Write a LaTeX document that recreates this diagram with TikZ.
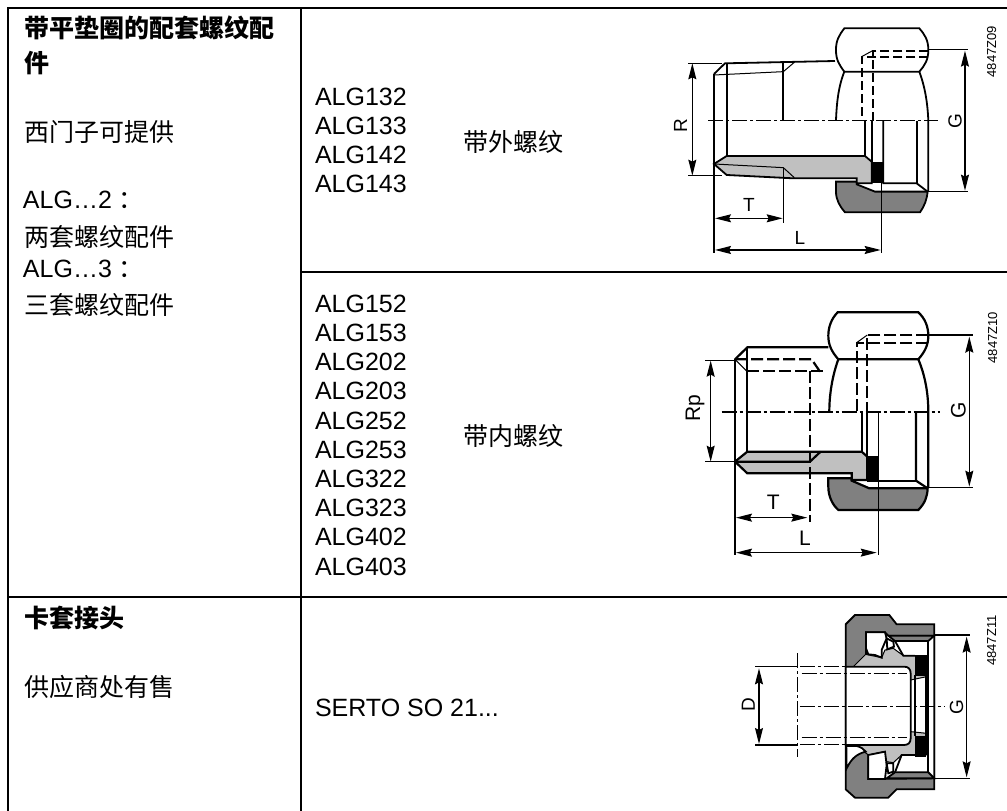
\documentclass[tikz,border=0pt]{standalone}
\usepackage{fontspec}
\setmainfont{Liberation Sans}
\newfontfamily\cjk{Noto Sans CJK SC}
\usetikzlibrary{arrows.meta}
\definecolor{nutgray}{HTML}{808080}
\definecolor{bodygray}{HTML}{C0C0C0}
\tikzset{
  every node/.append style={inner sep=0pt, outer sep=0pt, text=black},
  cell/.style={anchor=base west, font=\fontsize{25pt}{29pt}\selectfont},
  cjkcell/.style={anchor=west, font=\cjk\fontsize{25pt}{30pt}\selectfont},
  headcell/.style={anchor=west, font=\cjk\bfseries\fontsize{25pt}{30pt}\selectfont},
  dimlabel/.style={font=\fontsize{19pt}{21pt}\selectfont},
  figno/.style={rotate=90, font=\fontsize{13pt}{15pt}\selectfont},
  frameline/.style={line width=2pt},
  part/.style={line width=1.8pt},
  thinpart/.style={line width=1pt},
  hidden/.style={line width=1.8pt, dash pattern=on 9pt off 4pt},
  axis/.style={line width=1.2pt, dash pattern=on 15pt off 3pt on 3pt off 3pt},
  dimline/.style={line width=1.2pt, {Stealth[length=16pt,width=8pt,inset=2pt]}-{Stealth[length=16pt,width=8pt,inset=2pt]}},
  extline/.style={line width=1.2pt}
}
\begin{document}
\begin{tikzpicture}[x=1pt, y=-1pt]
  \useasboundingbox (0,0) rectangle (1007,811);
  % table
  \draw[frameline] (1007,8) -- (8,8) -- (8,811);
  \draw[frameline] (301,8) -- (301,811);
  \draw[frameline] (301,272) -- (1007,272);
  \draw[frameline] (8,597) -- (1007,597);
  % first column
  \node[headcell] (head1) at (24,28) {带平垫圈的配套螺纹配};
  \node[headcell] (head1b) at (24,63) {件};
  \node[cjkcell] (supply) at (24,132) {西门子可提供};
  \node[cell] (alg2) at (23,208) {ALG…2\hspace{7pt}{\cjk ：}};
  \node[cjkcell] (two) at (24,237) {两套螺纹配件};
  \node[cell] (alg3) at (23,277) {ALG…3\hspace{7pt}{\cjk ：}};
  \node[cjkcell] (three) at (24,305) {三套螺纹配件};
  \node[headcell] (head2) at (24,618) {卡套接头};
  \node[cjkcell] (vendor) at (24,687) {供应商处有售};
  % middle column
  \foreach \name [count=\i from 0] in {ALG132,ALG133,ALG142,ALG143}
    \node[cell] (outer\i) at (315,{105.7+29*\i}) {\name};
  \foreach \name [count=\i from 0] in {ALG152,ALG153,ALG202,ALG203,ALG252,ALG253,ALG322,ALG323,ALG402,ALG403}
    \node[cell] (inner\i) at (315,{312.3+29.2*\i}) {\name};
  \node[cjkcell] (male) at (463,142) {带外螺纹};
  \node[cjkcell] (female) at (463,436) {带内螺纹};
  \node[cell] (serto) at (315,716) {SERTO SO 21...};
  % fitting with outer thread
  \begin{scope}[shift={(660,0)}, x=.3333pt, y=-.3333pt]
    \filldraw[part, fill=nutgray] (528,545) -- (590,545) -- (590,553) -- (645,575) -- (803,575)
      .. controls (800,600) and (795,615) .. (780,637) -- (555,637)
      .. controls (540,620) and (528,600) .. (528,575) -- cycle;
    \filldraw[part, fill=bodygray] (162,492) -- (200,468) -- (615,468) -- (635,485) -- (635,550)
      -- (590,550) -- (590,535) -- (400,535) -- (200,525) -- cycle;
    \fill (637,485) rectangle (670,550);
    \draw[part] (162,222) -- (195,190) -- (525,183);
    \draw[part] (162,222) -- (162,492);
    \draw[part] (200,190) -- (200,468);
    \draw[thinpart] (162,225) -- (370,215) -- (403,187);
    \draw[thinpart] (162,492) -- (370,503) -- (403,533);
    \draw[part] (370,183) -- (370,362);
    \draw[part] (553,85) -- (778,85) .. controls (795,105) and (805,120) .. (805,150)
      .. controls (805,180) and (795,195) .. (778,215) -- (553,215)
      .. controls (538,195) and (528,180) .. (528,150) .. controls (528,120) and (538,105) .. (553,85) -- cycle;
    \draw[part] (553,215) .. controls (535,260) and (530,310) .. (528,362);
    \draw[part] (778,215) .. controls (795,260) and (803,310) .. (805,362) -- (805,575);
    \draw[part] (615,362) -- (615,468);
    \draw[part] (635,362) -- (635,485);
    \draw[part] (670,362) -- (670,550) -- (770,550) -- (803,575);
    \draw[part] (770,362) -- (770,550);
    \draw[hidden] (805,170) -- (605,170) -- (605,362);
    \draw[hidden] (805,152) -- (638,152) -- (638,362);
    \draw[thinpart] (605,170) -- (638,152);
    \draw[axis, line width=1.6pt] (145,362) -- (835,362);
    % dimensions
    \draw[extline] (85,190) -- (185,190);
    \draw[extline] (85,527) -- (185,527);
    \draw[dimline] (97,190) -- (97,527);
    \draw[extline] (805,148) -- (925,148);
    \draw[extline] (805,575) -- (925,575);
    \draw[dimline] (915,152) -- (915,572);
    \draw[extline] (162,492) -- (162,758);
    \draw[extline] (370,503) -- (370,668);
    \draw[extline] (665,550) -- (665,758);
    \draw[dimline] (165,655) -- (368,655);
    \draw[dimline] (165,750) -- (662,750);
    \node[dimlabel, rotate=90] (labelR) at (62,378) {R};
    \node[dimlabel, rotate=90] (labelG) at (885,362) {G};
    \node[dimlabel] (labelT) at (267,615) {T};
    \node[dimlabel] (labelL) at (420,715) {L};
    \node[figno] (fig09) at (995,155) {4847Z09};
  \end{scope}
  % fitting with inner thread
  \begin{scope}[shift={(660,270)}, x=.3333pt, y=-.3333pt, part/.append style={line width=2.2pt},
      hidden/.append style={line width=2.2pt, dash pattern=on 12pt off 4pt}]
    \filldraw[part, fill=nutgray] (505,625) -- (575,625) -- (575,632) -- (628,655) -- (803,655)
      .. controls (802,680) and (795,700) .. (775,720) -- (535,720)
      .. controls (518,705) and (505,680) .. (505,650) -- cycle;
    \filldraw[part, fill=bodygray] (225,575) -- (262,545) -- (605,545) -- (622,560) -- (622,630)
      -- (575,630) -- (575,610) -- (262,610) -- cycle;
    \fill (620,557) rectangle (655,630);
    \draw[part] (225,268) -- (262,232) -- (505,232);
    \draw[part] (225,268) -- (225,575);
    \draw[part] (262,232) -- (262,545);
    \draw[thinpart] (225,268) -- (262,305);
    \draw[part] (225,575) -- (450,575) -- (482,545);
    \draw[part] (533,127) -- (775,127) .. controls (795,145) and (805,170) .. (805,197)
      .. controls (805,225) and (795,245) .. (775,268) -- (535,268)
      .. controls (515,245) and (505,225) .. (505,197) .. controls (505,170) and (515,145) .. (533,127) -- cycle;
    \draw[part] (535,268) .. controls (518,315) and (508,370) .. (508,425);
    \draw[part] (775,268) .. controls (795,315) and (805,370) .. (805,425) -- (805,652);
    \draw[part] (605,427) -- (605,545);
    \draw[part] (622,427) -- (622,557);
    \draw[part] (768,427) -- (768,632) -- (803,655);
    \draw[part] (620,632) -- (768,632);
    \draw[hidden] (225,268) -- (455,268) -- (480,305);
    \draw[hidden] (262,303) -- (500,303);
    \draw[hidden] (450,303) -- (450,755);
    \draw[hidden] (805,218) -- (590,218) -- (590,427);
    \draw[hidden] (805,195) -- (622,195) -- (622,427);
    \draw[thinpart] (590,218) -- (622,195);
    \draw[axis, line width=2.2pt] (185,427) -- (840,427);
    % dimensions
    \draw[extline] (135,272) -- (225,272);
    \draw[extline] (135,575) -- (225,575);
    \draw[dimline] (152,272) -- (152,575);
    \draw[extline] (805,195) -- (940,195);
    \draw[extline] (805,652) -- (940,652);
    \draw[dimline] (928,200) -- (928,650);
    \draw[extline] (225,575) -- (225,855);
    \draw[extline] (655,427) -- (655,855);
    \draw[dimline] (228,743) -- (442,743);
    \draw[dimline] (228,848) -- (650,848);
    \node[dimlabel, rotate=90, font=\fontsize{21pt}{23pt}\selectfont] (labelRp) at (105,415) {Rp};
    \node[dimlabel, rotate=90, font=\fontsize{21pt}{23pt}\selectfont] (labelGb) at (895,420) {G};
    \node[dimlabel, font=\fontsize{21pt}{23pt}\selectfont] (labelTb) at (340,698) {T};
    \node[dimlabel, font=\fontsize{21pt}{23pt}\selectfont] (labelLb) at (435,805) {L};
    \node[figno] (fig10) at (998,203) {4847Z10};
  \end{scope}
  % compression fitting
  \begin{scope}[shift={(700,600)}, x=.3333pt, y=-.3333pt, axis/.append style={line width=1pt}]
    \filldraw[part, fill=nutgray] (437,73) -- (465,45) -- (568,45) -- (590,73) -- (703,73) -- (703,568)
      -- (590,568) -- (565,593) -- (465,593) -- (437,568) -- cycle;
    % cavity in the nut
    \filldraw[part, fill=white] (498,97) -- (555,97) -- (565,107) -- (703,107) -- (703,535)
      -- (505,537) -- (505,465) -- (498,145) -- cycle;
    \filldraw[part, fill=nutgray] (565,107) -- (703,107) -- (685,123) -- (585,123) -- cycle;
    \filldraw[part, fill=nutgray] (560,535) -- (703,535) -- (685,517) -- (585,517) -- cycle;
    % ferrule
    \filldraw[thinpart, fill=bodygray] (460,200) -- (497,163) -- (545,173) -- (555,150) -- (580,145)
      -- (610,167) -- (680,167) -- (680,230) -- (632,240) -- cycle;
    \filldraw[thinpart, fill=bodygray] (470,437) -- (505,465) -- (552,455) -- (560,485) -- (580,488)
      -- (605,465) -- (680,465) -- (680,400) -- (632,395) -- cycle;
    \draw[part] (585,123) -- (610,167) -- (645,167);
    \draw[part] (585,517) -- (605,465) -- (645,465);
    % white wedge under the tube
    \filldraw[part, fill=white] (439,438) -- (470,438) .. controls (485,442) and (492,448) .. (497,455)
      .. controls (470,462) and (455,475) .. (440,505) -- cycle;
    % wedge ring
    \filldraw[part, fill=white] (498,97) -- (555,97) -- (560,115) -- (545,150) -- (545,173)
      -- (525,165) -- (505,163) -- (498,145) -- cycle;
    \filldraw[part, fill=white] (560,115) -- (580,125) -- (582,140) -- (562,148) -- cycle;
    \filldraw[part, fill=white] (505,465) -- (555,455) -- (560,495) -- (555,537) -- (505,537) -- cycle;
    \filldraw[part, fill=white] (560,490) -- (580,490) -- (580,515) -- (565,520) -- cycle;
    \draw[part] (685,123) -- (685,517);
    \draw[part] (645,225) -- (645,408);
    \draw[part] (678,225) -- (678,408);
    \fill (645,167) rectangle (678,228);
    \fill (645,408) rectangle (678,470);
    % tube
    \filldraw[part, fill=white] (437,200) -- (612,200) .. controls (625,200) and (632,207) .. (632,220)
      -- (632,415) .. controls (632,428) and (625,435) .. (612,435) -- (437,435) -- cycle;
    \draw[axis] (305,222) -- (620,222);
    \draw[axis] (305,412) -- (620,412);
    \draw[axis] (300,320) -- (735,320);
    \draw[axis] (293,160) -- (293,470);
    \draw[axis] (300,200) -- (437,200);
    \draw[axis] (300,435) -- (437,435);
    % dimensions
    \draw[extline] (165,200) -- (295,200);
    \draw[extline] (165,435) -- (295,435);
    \draw[dimline] (177,205) -- (177,432);
    \draw[extline] (703,105) -- (810,105);
    \draw[extline] (703,535) -- (810,535);
    \draw[dimline] (800,110) -- (800,532);
    \node[dimlabel, rotate=90] (labelD) at (145,315) {D};
    \node[dimlabel, rotate=90] (labelGc) at (770,320) {G};
    \node[figno] (fig11) at (875,122) {4847Z11};
  \end{scope}
\end{tikzpicture}
\end{document}
